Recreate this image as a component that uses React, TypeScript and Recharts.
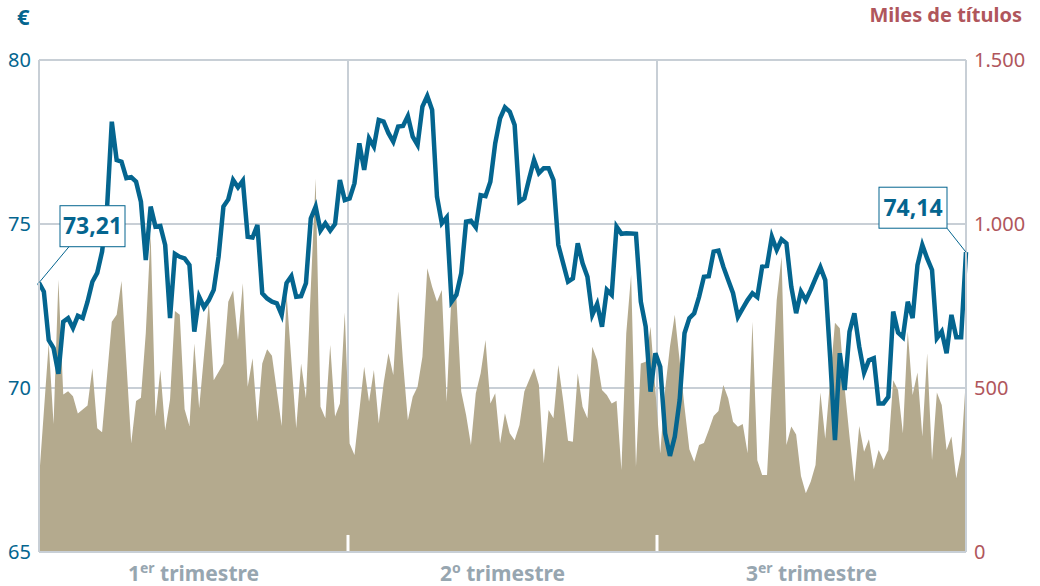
import React from "react";
import {
  ComposedChart,
  Area,
  Line,
  XAxis,
  YAxis,
  CartesianGrid,
  ReferenceLine,
} from "recharts";

// cierre diario de la acción (€), una sesión por punto
const prices = [
  73.21, 72.94, 71.46, 71.22, 70.43, 72.02, 72.13, 71.83, 72.2, 72.13, 72.63,
  73.24, 73.51, 74.16, 75.43, 78.12, 76.95, 76.9, 76.4, 76.43, 76.29, 75.68,
  73.9, 75.53, 74.92, 74.94, 74.36, 72.13, 74.09, 74.0, 73.95, 73.75, 71.72,
  72.78, 72.46, 72.68, 72.99, 74.0, 75.53, 75.75, 76.34, 76.12, 76.32, 74.61,
  74.59, 74.97, 72.89, 72.73, 72.63, 72.58, 72.23, 73.2, 73.41, 72.78, 72.8,
  73.19, 75.17, 75.53, 74.8, 75.02, 74.8, 75.0, 76.34, 75.73, 75.78,
  76.24, 77.46, 76.65, 77.61, 77.36, 78.17, 78.12, 77.77, 77.51, 77.97, 77.99,
  78.29, 77.66, 77.41, 78.58, 78.9, 78.48, 75.83, 75.02, 75.2, 72.63, 72.84,
  73.5, 75.07, 75.1, 74.9, 75.88, 75.85, 76.29, 77.46, 78.22, 78.56,
  78.42, 78.02, 75.68, 75.78, 76.39, 76.95, 76.55, 76.7, 76.7, 76.34, 74.36,
  73.8, 73.24, 73.34, 74.41, 73.8, 73.39, 72.23, 72.56, 71.87, 72.99, 72.84,
  74.92, 74.7, 74.72, 74.71, 74.7, 72.63, 71.87, 69.89, 71.06, 70.65,
  68.62, 67.93, 68.52, 69.63, 71.67, 72.13, 72.28, 72.78, 73.39, 73.41, 74.16,
  74.19, 73.7, 73.29, 72.89, 72.17, 72.43, 72.68, 72.89, 72.77, 73.7, 73.72,
  74.61, 74.21, 74.53, 74.41, 73.09, 72.28, 72.94, 72.68, 72.99, 73.34,
  73.68, 73.29, 70.95, 68.41, 71.06, 69.94, 71.72, 72.28, 71.26, 70.47, 70.85,
  70.91, 69.53, 69.53, 69.73, 72.33, 71.69, 71.55, 72.63, 72.13, 73.75, 74.36,
  73.95, 73.6, 71.52, 71.72, 71.06, 72.23, 71.55, 71.55, 74.14,
];

// volumen negociado (miles de títulos); null = sesión no leída
const volumes: (number | null)[] = [
  220, null, 636, 390, 830, 480, 490, 475, 422, null, 447, 560, 377, 365, null,
  702, 723, 826, null, 331, 460, 470, 667, 972, 413, 555, 372, 465, 735, 723,
  435, 384, 636, 438, null, 763, 524, null, 575, 763, 797, 646, 819, 504, 591,
  397, 575, 618, 598, null, 384, 789, null, 377, 575, 469, null, 1139, 443, 408,
  631, 413, 453, 730, 331, 296, null, 565, 458, 555, 392, 514, 606, 540, 794,
  580, 402, 473, 504, 595, 865, 809, 763, 799, 458, 789, 778, 489, 418, 326,
  484, 545, 646, 453, 484, 331, 423, 362, 341, 387, 489, null, 560, 509, 270,
  433, 408, 570, 463, 339, 336, 545, 443, 408, 626, 585, 494, 479, 453, 461,
  250, 667, 845, 260, 575, 580, 687, 494, 300, 494, 626, 723, null, 443, 313,
  275, 326, 332, 372, 415, 430, 509, 469, 397, 382, 390, 301, 702, 280, 235,
  235, 514, 768, 900, 326, 383, 358, 232, 179, 214, 265, 486, 345, null, 699,
  682, 500, 352, 214, 384, 306, 344, 252, 311, 280, 311, 524, 494, 362, 672,
  479, 547, 352, 606, 280, 486, 448, 311, 352, 225, 301, 534,
];

const quarterLabels = [
  { num: "1", sup: "er" },
  { num: "2", sup: "o" },
  { num: "3", sup: "er" },
];
const priceTicks = [65, 70, 75, 80];
const volumeTicks = [0, 500, 1000, 1500];

const data = prices.map((price, day) => ({
  day,
  price,
  volume: volumes[day],
}));
const lastDay = prices.length - 1;
const quarterLength = lastDay / quarterLabels.length;
const quarterMids = quarterLabels.map((_, i) => (i + 0.5) * quarterLength);
const quarterBounds = [quarterLength, 2 * quarterLength];

const BLUE = "#04658f";
const RED = "#b0565c";
const GRID = "#c8cfd6";
const SAND = "#b4aa8e";
const GREY = "#97a6b0";
const FONT = "'Noto Sans', sans-serif";

const fmtThousands = (v: number) =>
  v >= 1000
    ? `${Math.floor(v / 1000)}.${String(v % 1000).padStart(3, "0")}`
    : String(v);

function QuarterTick(props: any) {
  const { x, y, index } = props;
  const q = quarterLabels[index];
  if (!q) return null;
  return (
    <text
      x={x}
      y={y + 21}
      textAnchor="middle"
      fill={GREY}
      fontFamily={FONT}
      fontWeight={700}
      fontSize={21}
    >
      <tspan>{q.num}</tspan>
      <tspan dy={-8} fontSize={14}>
        {q.sup}
      </tspan>
      <tspan dy={8}> trimestre</tspan>
    </text>
  );
}

function PriceLabel(props: any) {
  const { x, y, index, value } = props;
  if (index !== 0 && index !== lastDay) return null;
  const first = index === 0;
  const w = first ? 65 : 68;
  const h = 41;
  const bx = first ? x + 21 : x - 19 - w;
  const by = first ? y - 77 : y - 65;
  const lx = first ? bx + 9 : bx + w;
  const text = Number(value).toFixed(2).replace(".", ",");
  return (
    <g>
      <line x1={x} y1={y} x2={lx} y2={by + h} stroke={BLUE} strokeWidth={1} />
      <rect x={bx} y={by} width={w} height={h} fill="#fff" stroke={BLUE} strokeWidth={1} />
      <text
        x={bx + w / 2}
        y={by + h / 2 + 8}
        textAnchor="middle"
        fill={BLUE}
        fontFamily={FONT}
        fontWeight={700}
        fontSize={23}
      >
        {text}
      </text>
    </g>
  );
}

export default function App() {
  return (
    <div
      style={{
        position: "absolute",
        left: 0,
        top: 0,
        width: 1040,
        height: 586,
        background: "#fff",
        fontFamily: FONT,
      }}
    >
      <div
        style={{
          position: "absolute",
          left: 17,
          top: 1,
          color: BLUE,
          fontWeight: 700,
          fontSize: 22,
        }}
      >
        €
      </div>
      <div
        style={{
          position: "absolute",
          right: 18,
          top: 1,
          color: RED,
          fontWeight: 700,
          fontSize: 20,
        }}
      >
        Miles de títulos
      </div>
      <ComposedChart
        width={1040}
        height={586}
        data={data}
        margin={{ top: 60, right: 0, bottom: 0, left: 0 }}
      >
        <CartesianGrid
          yAxisId="left"
          stroke={GRID}
          strokeWidth={2}
          verticalCoordinatesGenerator={({ xAxis, offset }: any) =>
            quarterBounds.map((d) =>
              typeof xAxis?.scale === "function"
                ? xAxis.scale(d)
                : offset.left + (offset.width * d) / lastDay
            )
          }
        />
        <XAxis
          dataKey="day"
          type="number"
          domain={[0, lastDay]}
          ticks={quarterMids}
          interval={0}
          height={34}
          tickLine={false}
          axisLine={{ stroke: GRID, strokeWidth: 2 }}
          tick={<QuarterTick />}
        />
        <YAxis
          yAxisId="left"
          domain={[65, 80]}
          ticks={priceTicks}
          interval={0}
          width={39}
          tickLine={false}
          axisLine={{ stroke: GRID, strokeWidth: 2 }}
          tick={{ fill: BLUE, fontSize: 20, fontFamily: FONT }}
        />
        <YAxis
          yAxisId="right"
          orientation="right"
          domain={[0, 1500]}
          ticks={volumeTicks}
          interval={0}
          width={74}
          tickLine={false}
          axisLine={{ stroke: GRID, strokeWidth: 2 }}
          tickFormatter={fmtThousands}
          tick={{ fill: RED, fontSize: 20, fontFamily: FONT, textAnchor: "start" }}
        />
        <Area
          yAxisId="right"
          dataKey="volume"
          type="linear"
          fill={SAND}
          fillOpacity={1}
          stroke="none"
          connectNulls
          isAnimationActive={false}
        />
        {quarterBounds.map((d) => (
          <ReferenceLine
            key={d}
            yAxisId="right"
            segment={[
              { x: d, y: 0 },
              { x: d, y: 52 },
            ]}
            stroke="#fff"
            strokeWidth={3}
          />
        ))}
        <Line
          yAxisId="left"
          dataKey="price"
          type="linear"
          stroke={BLUE}
          strokeWidth={4.5}
          dot={false}
          activeDot={false}
          isAnimationActive={false}
          label={(p: any) => <PriceLabel key={`pl-${p.index}`} {...p} />}
        />
      </ComposedChart>
    </div>
  );
}
